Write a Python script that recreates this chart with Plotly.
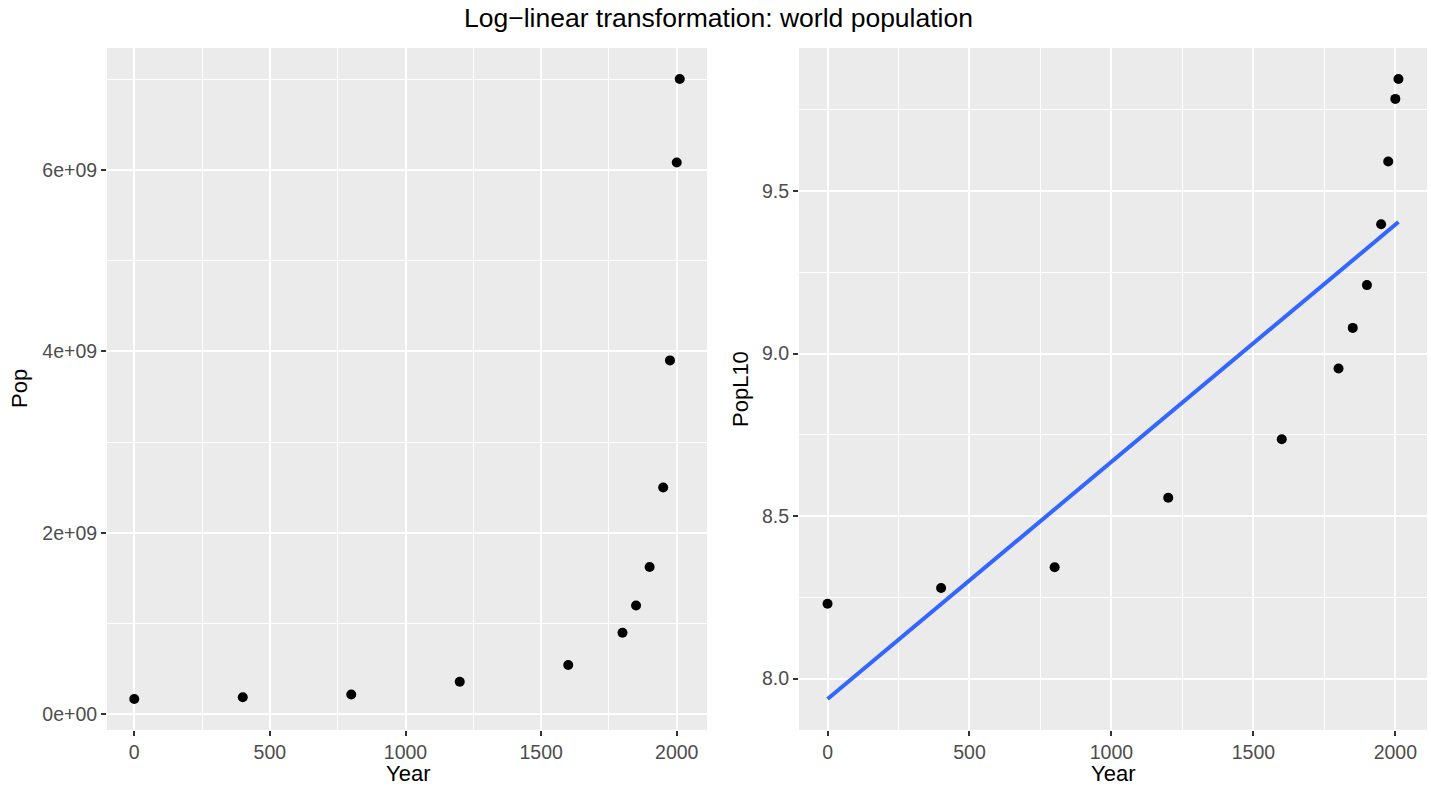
import numpy as np
import plotly.graph_objects as go

# ---- data ----
years = [0, 400, 800, 1200, 1600, 1800, 1850, 1900, 1950, 1975, 2000, 2011]
pop = [170e6, 190e6, 220e6, 360e6, 545e6, 900e6, 1.2e9, 1.625e9, 2.5e9, 3.9e9, 6.08e9, 7.0e9]
x_ticks = [0, 500, 1000, 1500, 2000]
pop_ticks = [0, 2e9, 4e9, 6e9]
pop_tick_labels = ["0e+00", "2e+09", "4e+09", "6e+09"]
popl10_ticks = [8.0, 8.5, 9.0, 9.5]
popl10_tick_labels = ["8.0", "8.5", "9.0", "9.5"]

popl10 = np.log10(pop)
slope, intercept = np.polyfit(years, popl10, 1)
fit_x = np.linspace(min(years), max(years), 80)
fit_y = intercept + slope * fit_x

W, H = 1431, 786


def expand(lo, hi, f=0.05):
    d = (hi - lo) * f
    return [lo - d, hi + d]


xr = expand(min(years), max(years))
yr1 = expand(min(pop), max(pop))
yr2 = expand(min(min(popl10), fit_y.min()), max(max(popl10), fit_y.max()))

fig = go.Figure()
fig.add_trace(go.Scatter(x=years, y=pop, mode="markers",
                         marker=dict(color="black", size=10), xaxis="x", yaxis="y",
                         showlegend=False, hoverinfo="x+y"))
fig.add_trace(go.Scatter(x=fit_x, y=fit_y, mode="lines",
                         line=dict(color="#3366FF", width=4), xaxis="x2", yaxis="y2",
                         showlegend=False))
fig.add_trace(go.Scatter(x=years, y=popl10, mode="markers",
                         marker=dict(color="black", size=10), xaxis="x2", yaxis="y2",
                         showlegend=False))

FONT = "Liberation Sans, Arial, sans-serif"
tickfont = dict(family=FONT, size=19.5, color="#4D4D4D")

ydom = [(H - 730) / H, (H - 48) / H]
common = dict(showline=False, zeroline=False, ticks="outside", ticklen=5, tickwidth=1.5,
              tickcolor="#333333", showgrid=True, gridcolor="white", gridwidth=2,
              tickfont=tickfont)
minor_x = dict(dtick=250, tick0=0, showgrid=True, gridcolor="white", gridwidth=1, ticks="")

fig.update_layout(
    width=W, height=H,
    margin=dict(l=0, r=0, t=0, b=0),
    paper_bgcolor="white", plot_bgcolor="#EBEBEB",
    font=dict(family=FONT),
    xaxis=dict(domain=[107 / W, 707 / W], range=xr, anchor="y",
               tickvals=x_ticks, minor=minor_x, **common),
    yaxis=dict(domain=ydom, range=yr1, anchor="x", tickvals=pop_ticks,
               ticktext=pop_tick_labels,
               minor=dict(dtick=1e9, tick0=0, showgrid=True, gridcolor="white",
                          gridwidth=1, ticks=""), **common),
    xaxis2=dict(domain=[799 / W, 1427 / W], range=xr, anchor="y2",
                tickvals=x_ticks, minor=minor_x, **common),
    yaxis2=dict(domain=ydom, range=yr2, anchor="x2", tickvals=popl10_ticks,
                ticktext=popl10_tick_labels,
                minor=dict(dtick=0.25, tick0=8.0, showgrid=True, gridcolor="white",
                           gridwidth=1, ticks=""), **common),
    annotations=[
        dict(text="Log\u2212linear transformation: world population", x=719 / W, y=1 - 18 / H,
             xref="paper", yref="paper", showarrow=False, xanchor="center", yanchor="middle",
             font=dict(family=FONT, size=26.5, color="black")),
        dict(text="Year", x=408 / W, y=1 - 773 / H, xref="paper", yref="paper",
             showarrow=False, xanchor="center", yanchor="middle",
             font=dict(family=FONT, size=22, color="black")),
        dict(text="Year", x=1113 / W, y=1 - 773 / H, xref="paper", yref="paper",
             showarrow=False, xanchor="center", yanchor="middle",
             font=dict(family=FONT, size=22, color="black")),
        dict(text="Pop", x=20 / W, y=0.5 * (ydom[0] + ydom[1]), xref="paper", yref="paper",
             showarrow=False, xanchor="center", yanchor="middle", textangle=-90,
             font=dict(family=FONT, size=22, color="black")),
        dict(text="PopL10", x=741 / W, y=0.5 * (ydom[0] + ydom[1]), xref="paper", yref="paper",
             showarrow=False, xanchor="center", yanchor="middle", textangle=-90,
             font=dict(family=FONT, size=22, color="black")),
    ],
)

fig.write_html("out.html")
